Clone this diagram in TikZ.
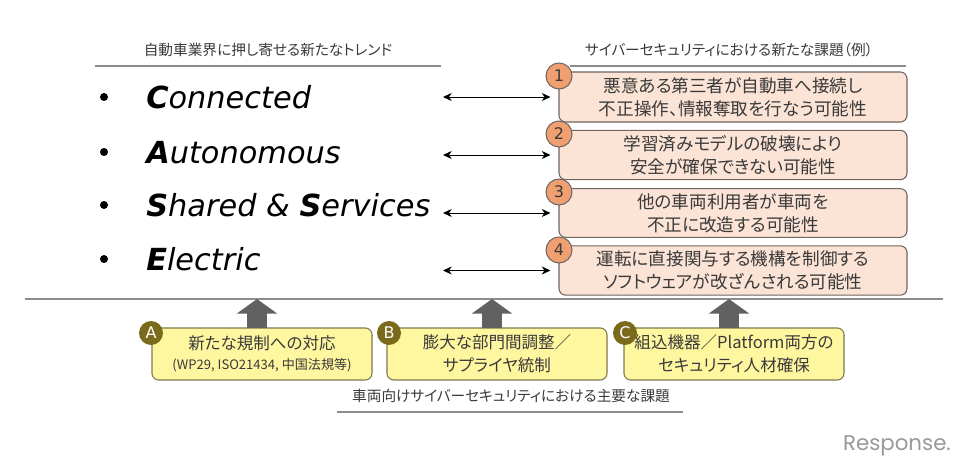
\documentclass[tikz,border=0pt]{standalone}
\usepackage{fontspec}
\setmainfont{DejaVu Sans}
\newfontfamily\jpfont[RawFeature=+palt]{Noto Sans CJK JP}
\newfontfamily\logofont{Poppins}
\usetikzlibrary{arrows,arrows.meta}
\definecolor{inkgrey}{HTML}{3A3A3A}
\definecolor{rulegrey}{HTML}{8C8C8C}
\definecolor{risk}{HTML}{FBE3D6}
\definecolor{riskedge}{HTML}{6E6660}
\definecolor{riskdot}{HTML}{F0A070}
\definecolor{task}{HTML}{FFF6A0}
\definecolor{taskedge}{HTML}{7E7A50}
\definecolor{taskdot}{HTML}{7A6A1C}
\tikzset{
  trend/.style={anchor=base west,font=\fontsize{22.8}{25}\selectfont\itshape,text=black,inner sep=0pt},
  dot/.style={circle,fill=black,minimum size=6pt,inner sep=0pt},
  head/.style={font=\jpfont\fontsize{11}{13}\selectfont,text=inkgrey,inner sep=0pt},
  rulerline/.style={draw=rulegrey,line width=1pt},
  riskbox/.style={draw=riskedge,fill=risk,line width=0.8pt,rounded corners=5pt,minimum width=261pt,inner sep=0pt,align=center,font=\jpfont\fontsize{13.2}{17}\selectfont,text=inkgrey},
  riskmark/.style={draw=riskedge,fill=riskdot,circle,line width=0.8pt,minimum size=19.5pt,inner sep=0pt,font=\fontsize{12}{14}\selectfont,text=inkgrey},
  taskbox/.style={draw=taskedge,fill=task,line width=0.8pt,rounded corners=5pt,minimum width=165pt,minimum height=39pt,inner sep=0pt,align=center,font=\jpfont\fontsize{12.4}{17}\selectfont,text=inkgrey},
  taskmark/.style={fill=taskdot,circle,minimum size=18pt,inner sep=0pt,font=\fontsize{12}{14}\selectfont,text=white},
  both/.style={<->,>={Stealth[length=6.5pt,width=6pt,inset=2pt]},line width=0.7pt,shorten >=6pt,black},
  push/.style={-{Triangle[length=11pt,width=30pt]},line width=15pt,color=black!62},
}
\begin{document}
\begin{tikzpicture}[x=0.75pt,y=-0.75pt]
  \useasboundingbox (0,0) rectangle (968,466);
  % trends on the left
  \node[head] (trend-head) at (268,50) {自動車業界に押し寄せる新たなトレンド};
  \coordinate (trend-l) at (95,66);
  \coordinate (trend-r) at (441,66);
  \draw[rulerline] (trend-l) -- (trend-r);
  \node[dot] (dot-1) at (104,97) {};
  \node[dot] (dot-2) at (104,152) {};
  \node[dot] (dot-3) at (104,205) {};
  \node[dot] (dot-4) at (104,259) {};
  \node[trend] (trend-1) at (146,109) {\textbf{C}onnected};
  \node[trend] (trend-2) at (146,164) {\textbf{A}utonomous};
  \node[trend] (trend-3) at (146,217) {\textbf{S}hared \& \textbf{S}ervices};
  \node[trend] (trend-4) at (146,271) {\textbf{E}lectric};
  % risks on the right
  \node[head] (risk-head) at (729,50) {サイバーセキュリティにおける新たな課題（例）};
  \coordinate (risk-l) at (570,66);
  \coordinate (risk-r) at (906,66);
  \draw[rulerline] (risk-l) -- (risk-r);
  \node[riskbox,minimum height=37.5pt] (risk-1) at (733,97) {悪意ある第三者が自動車へ接続し\\不正操作、情報奪取を行なう可能性};
  \node[riskbox,minimum height=37pt] (risk-2) at (733,155) {学習済みモデルの破壊により\\安全が確保できない可能性};
  \node[riskbox,minimum height=36.5pt] (risk-3) at (733,213) {他の車両利用者が車両を\\不正に改造する可能性};
  \node[riskbox,minimum height=37pt] (risk-4) at (733,270.5) {運転に直接関与する機構を制御する\\ソフトウェアが改ざんされる可能性};
  \node[riskmark] (mark-1) at (559,76) {1};
  \node[riskmark] (mark-2) at (559,134) {2};
  \node[riskmark] (mark-3) at (559,192) {3};
  \node[riskmark] (mark-4) at (559,250) {4};
  \coordinate (end-1) at (443,97);
  \coordinate (end-2) at (443,155);
  \coordinate (end-3) at (443,213);
  \coordinate (end-4) at (443,270.5);
  \draw[both] (end-1) -- (risk-1);
  \draw[both] (end-2) -- (risk-2);
  \draw[both] (end-3) -- (risk-3);
  \draw[both] (end-4) -- (risk-4);
  % divider
  \coordinate (split-l) at (25,299);
  \coordinate (split-r) at (943,299);
  \draw[rulerline] (split-l) -- (split-r);
  % tasks below
  \node[taskbox] (task-A) at (262,354) {新たな規制への対応\\[-2pt]{\fontsize{9.8}{12}\selectfont (WP29, ISO21434, 中国法規等)}};
  \node[taskbox] (task-B) at (497,354) {膨大な部門間調整／\\サプライヤ統制};
  \node[taskbox] (task-C) at (734,354) {組込機器／Platform両方の\\セキュリティ人材確保};
  \node[taskmark] (mark-A) at (151,333) {A};
  \node[taskmark] (mark-B) at (389,333) {B};
  \node[taskmark] (mark-C) at (625,333) {C};
  \coordinate (foot-A) at (257,328);
  \coordinate (foot-B) at (492,328);
  \coordinate (foot-C) at (729,328);
  \coordinate (tip-A) at (257,299);
  \coordinate (tip-B) at (492,299);
  \coordinate (tip-C) at (729,299);
  \draw[push] (foot-A) -- (tip-A);
  \draw[push] (foot-B) -- (tip-B);
  \draw[push] (foot-C) -- (tip-C);
  \node[head] (task-head) at (511,396) {車両向けサイバーセキュリティにおける主要な課題};
  \coordinate (task-l) at (337,412);
  \coordinate (task-r) at (683,412);
  \draw[rulerline] (task-l) -- (task-r);
  % logo
  \node[font=\logofont\fontsize{16}{18}\selectfont,text=black!40,inner sep=0pt] (logo) at (897,446) {Response.};
\end{tikzpicture}
\end{document}
